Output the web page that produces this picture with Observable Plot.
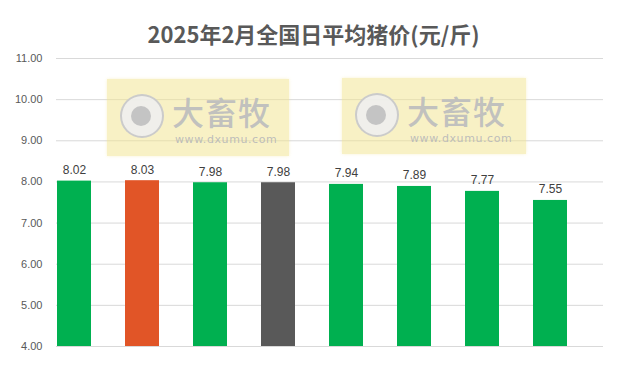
<!DOCTYPE html>
<html>
<head>
<meta charset="utf-8">
<script src="https://cdn.jsdelivr.net/npm/d3@7"></script>
<script src="https://cdn.jsdelivr.net/npm/@observablehq/plot@0.6"></script>
<style>
  html, body { margin: 0; padding: 0; background: #fff; }
  #wrap { position: relative; width: 627px; height: 371px; overflow: hidden; }
  #title { box-sizing: border-box; height: 46px; padding-top: 20px; line-height: 26px; text-align: center;
    font-family: "Noto Sans CJK SC", sans-serif; font-weight: bold; font-size: 22px; color: #595959; }
  .wm { position: absolute; background: rgba(242,228,140,0.5); box-shadow: 0 0 3px rgba(242,228,140,0.4); }
  .wm .logo { position: absolute; left: 13px; top: 15px; width: 44px; height: 44px; border-radius: 50%;
    background: rgba(238,238,238,0.9); border: 2px solid rgba(200,200,200,0.9); box-sizing: border-box; }
  .wm .logo::after { content: ""; position: absolute; left: 9px; top: 10px; width: 20px; height: 20px; border-radius: 50%; background: #c4c4c4; }
  .wm .big { position: absolute; left: 65px; top: 17px; font-family: "Noto Sans CJK SC", sans-serif; font-weight: 500;
    font-size: 32px; line-height: 31px; color: rgba(190,190,190,0.95); letter-spacing: 1px; }
  .wm .url { position: absolute; left: 68px; top: 55px; font-family: "DejaVu Sans", sans-serif; font-size: 11px; line-height: 12px;
    color: rgba(185,185,185,0.95); letter-spacing: 0.6px; }
</style>
</head>
<body>
<div id="wrap">
  <div id="title">2025年2月全国日平均猪价(元/斤)</div>
  <div id="chart"></div>
</div>
<script>
const categories = ["1", "2", "3", "4", "5", "6", "7", "8"];
const prices = [8.02, 8.03, 7.98, 7.98, 7.94, 7.89, 7.77, 7.55];
const barColors = ["#00B050", "#E15527", "#00B050", "#595959", "#00B050", "#00B050", "#00B050", "#00B050"];
const yTicks = [4, 5, 6, 7, 8, 9, 10, 11];

const data = categories.map((c, i) => ({cat: c, value: prices[i], color: barColors[i]}));

const chart = Plot.plot({
  width: 627,
  height: 325,
  marginTop: 12,
  marginBottom: 25,
  marginLeft: 56,
  marginRight: 24,
  style: {background: "transparent", fontFamily: "'Liberation Sans', sans-serif"},
  x: {type: "band", domain: categories, range: [56.5, 567.5], paddingInner: 0.5, paddingOuter: 0, align: 0, axis: null},
  y: {domain: [4, 11], ticks: yTicks, tickFormat: d3.format(".2f"), tickSize: 0, tickPadding: 14, label: null},
  marks: [
    Plot.ruleY(yTicks, {stroke: "#d9d9d9", strokeWidth: 1}),
    Plot.barY(data, {x: "cat", y1: 4, y2: "value", fill: "color"}),
    Plot.text(data, {x: "cat", y: "value", text: d => d3.format(".2f")(d.value), lineAnchor: "bottom", dy: -7,
      fill: "#404040", fontSize: 12}),
    Plot.axisY({ticks: yTicks, tickFormat: d3.format(".2f"), tickSize: 0, tickPadding: 14, fontSize: 11, color: "#595959", label: null})
  ]
});
document.getElementById("chart").appendChild(chart);

// watermark overlays
const wms = [{left: 107, top: 79, w: 182, h: 77}, {left: 342, top: 78, w: 184, h: 76}];
const wrap = document.getElementById("wrap");
wms.forEach(p => {
  const d = document.createElement("div");
  d.className = "wm";
  Object.assign(d.style, {left: p.left + "px", top: p.top + "px", width: p.w + "px", height: p.h + "px"});
  d.innerHTML = '<div class="logo"></div><div class="big">大畜牧</div><div class="url">www.dxumu.com</div>';
  wrap.appendChild(d);
});
</script>
</body>
</html>
